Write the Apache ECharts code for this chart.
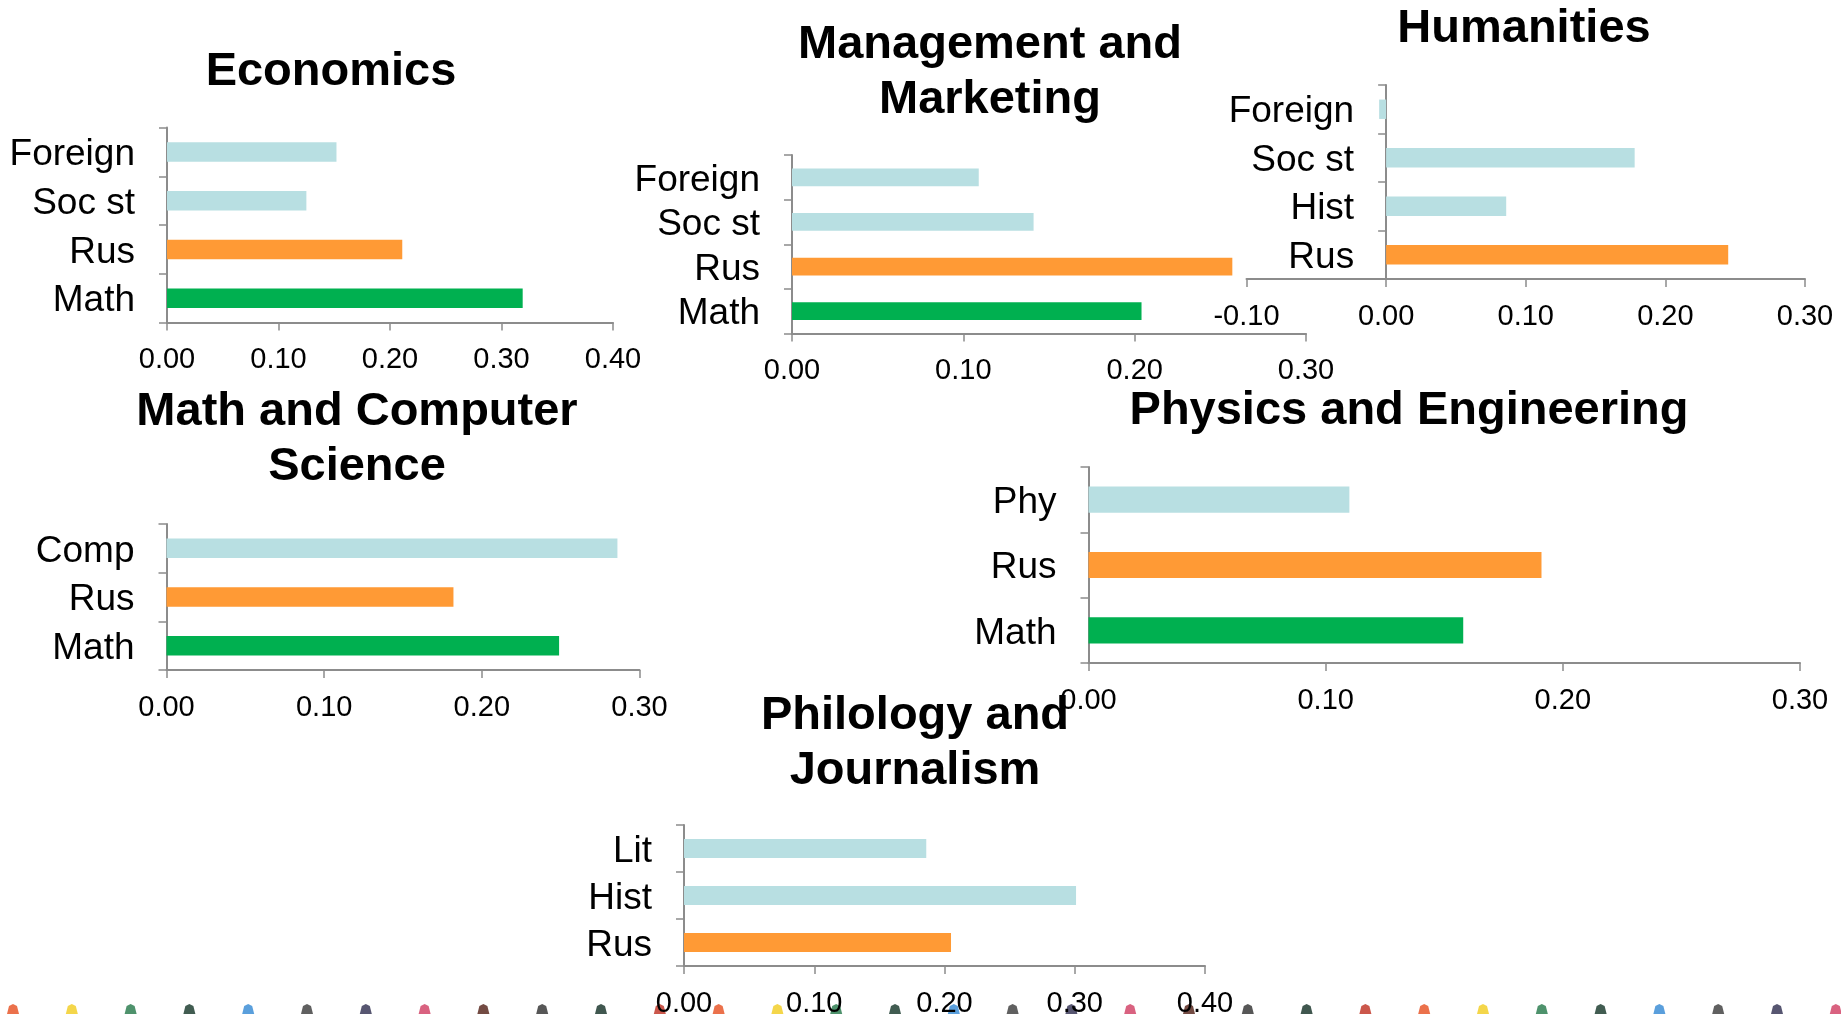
<!DOCTYPE html>
<html>
<head>
<meta charset="utf-8">
<title>Subject weights by faculty</title>
<script src="https://cdn.jsdelivr.net/npm/echarts@6/dist/echarts.min.js"></script>
<style>
  html, body { margin: 0; padding: 0; background: #fff; }
  #main { width: 1841px; height: 1014px; }
</style>
</head>
<body>
<div id="main"></div>
<script>
// categories are listed bottom to top, the way the category axis draws them
const econCats = ['Math', 'Rus', 'Soc st', 'Foreign'];
const econVals = [0.319, 0.211, 0.125, 0.152];

const mgmtCats = ['Math', 'Rus', 'Soc st', 'Foreign'];
const mgmtVals = [0.204, 0.257, 0.141, 0.109];

const humCats = ['Rus', 'Hist', 'Soc st', 'Foreign'];
const humVals = [0.245, 0.086, 0.178, -0.005];

const mathCats = ['Math', 'Rus', 'Comp'];
const mathVals = [0.249, 0.182, 0.286];

const physCats = ['Math', 'Rus', 'Phy'];
const physVals = [0.158, 0.191, 0.110];

const philCats = ['Rus', 'Hist', 'Lit'];
const philVals = [0.205, 0.301, 0.186];

const crayonColors = ['#e8582c', '#f2cf2a', '#2f7f52', '#203f33', '#3d8ed6', '#444444',
                      '#3a3858', '#d2476a', '#5b2b22', '#3a3a3a', '#1f3a30', '#c23a2c'];

const FONT = '"Liberation Sans", Arial, sans-serif';
const AXIS_GRAY = '#8c8c8c';

function barColor(name) {
    if (name === 'Math') return '#00b050';
    if (name === 'Rus') return '#ff9a35';
    return '#b8dfe2';
}

const panels = [
    { title: 'Economics', cats: econCats, vals: econVals, min: 0, max: 0.4,
      tx: 331, ty: 45, grid: { left: 167, top: 127.5, width: 446, height: 195 } },
    { title: 'Management and\nMarketing', cats: mgmtCats, vals: mgmtVals, min: 0, max: 0.3,
      tx: 990, ty: 18, grid: { left: 792, top: 155, width: 514, height: 178.5 } },
    { title: 'Humanities', cats: humCats, vals: humVals, min: -0.1, max: 0.3,
      tx: 1524, ty: 2, grid: { left: 1246.5, top: 85, width: 558.5, height: 194 } },
    { title: 'Math and Computer\nScience', cats: mathCats, vals: mathVals, min: 0, max: 0.3,
      tx: 357, ty: 385, grid: { left: 166.5, top: 524, width: 473, height: 146 } },
    { title: 'Physics and Engineering', cats: physCats, vals: physVals, min: 0, max: 0.3,
      tx: 1409, ty: 384, grid: { left: 1088.5, top: 467, width: 711.5, height: 196 } },
    { title: 'Philology and\nJournalism', cats: philCats, vals: philVals, min: 0, max: 0.4,
      tx: 915, ty: 689, grid: { left: 684, top: 825, width: 521, height: 141 } }
];

// the category labels stay at the grid edge, so pull them over to where the axis crosses zero
function labelMargin(p) {
    const zeroOffset = p.min < 0 ? p.grid.width * (-p.min) / (p.max - p.min) : 0;
    return 32 - zeroOffset;
}

const chart = echarts.init(document.getElementById('main'));

const option = {
    animation: false,
    backgroundColor: '#ffffff',
    title: panels.map(p => ({
        text: p.title,
        left: p.tx,
        top: p.ty,
        textAlign: 'center',
        padding: 0,
        textStyle: {
            fontFamily: FONT,
            fontWeight: 'bold',
            fontSize: 47,
            lineHeight: 55,
            color: '#000'
        }
    })),
    grid: panels.map(p => Object.assign({ outerBoundsMode: 'none', containLabel: false }, p.grid)),
    xAxis: panels.map((p, i) => ({
        type: 'value',
        gridIndex: i,
        min: p.min,
        max: p.max,
        interval: 0.1,
        axisLine: { show: true, onZero: false, lineStyle: { color: AXIS_GRAY, width: 2 } },
        axisTick: { show: true, length: 8, lineStyle: { color: AXIS_GRAY, width: 1.5 } },
        splitLine: { show: false },
        axisLabel: {
            fontFamily: FONT,
            fontSize: 29,
            color: '#000',
            margin: 23,
            formatter: v => v.toFixed(2)
        }
    })),
    yAxis: panels.map((p, i) => ({
        type: 'category',
        gridIndex: i,
        data: p.cats,
        axisLine: { show: true, onZero: true, lineStyle: { color: AXIS_GRAY, width: 2 } },
        axisTick: { show: true, length: 8, lineStyle: { color: AXIS_GRAY, width: 1.5 } },
        splitLine: { show: false },
        axisLabel: {
            interval: 0,
            fontFamily: FONT,
            fontSize: 37,
            color: '#000',
            margin: labelMargin(p),
            // a thin line box hung from the band centre drops the text a few px, as in the original
            verticalAlign: 'top',
            lineHeight: 6
        }
    })),
    series: panels.map((p, i) => ({
        type: 'bar',
        xAxisIndex: i,
        yAxisIndex: i,
        barCategoryGap: '60%',
        silent: true,
        data: p.vals.map((v, k) => ({ value: v, itemStyle: { color: barColor(p.cats[k]) } }))
    })),
    // row of crayon tips peeking in at the bottom edge
    graphic: Array.from({ length: 32 }, (_, i) => ({
        type: 'polygon',
        silent: true,
        shape: { points: [[7 + i * 58.8, 1014], [9 + i * 58.8, 1006], [13 + i * 58.8, 1004], [17 + i * 58.8, 1006], [19 + i * 58.8, 1014]] },
        style: { fill: crayonColors[i % crayonColors.length], opacity: 0.85 }
    }))
};

option && chart.setOption(option);
</script>
</body>
</html>
